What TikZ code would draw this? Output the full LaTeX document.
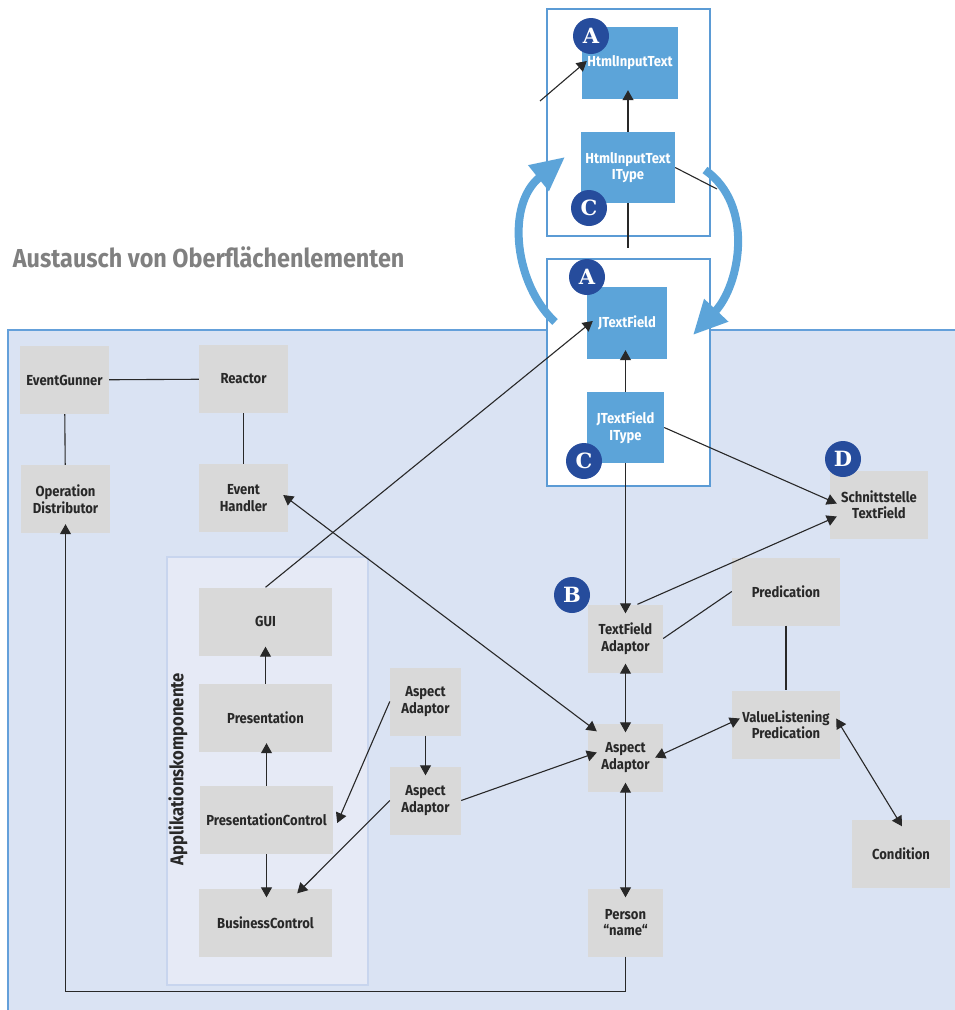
\documentclass[tikz,border=0pt]{standalone}
\usepackage{fontspec}
\setmainfont{Fira Sans}[FakeStretch=0.9]
\newfontfamily\badgefont{DejaVu Serif}
\usetikzlibrary{arrows.meta,calc}

\definecolor{panelbg}{RGB}{218,227,243}
\definecolor{panelline}{RGB}{100,160,218}
\definecolor{appbg}{RGB}{230,234,246}
\definecolor{appline}{RGB}{200,213,238}
\definecolor{boxgray}{RGB}{217,217,217}
\definecolor{boxblue}{RGB}{92,164,217}
\definecolor{frameblue}{RGB}{91,155,213}
\definecolor{badgeblue}{RGB}{38,76,156}
\definecolor{inkgray}{RGB}{40,40,40}
\definecolor{titlegray}{RGB}{128,128,128}

\newcommand\cmpfont{\bfseries\fontsize{14.5}{16.5}\selectfont}

\tikzset{
  comp/.style={fill=boxgray, text=inkgray, minimum height=68pt, inner sep=2pt, align=center, font=\cmpfont},
  ui/.style={fill=boxblue, text=white, inner sep=2pt, align=center, font=\cmpfont},
  badge/.style={circle, fill=badgeblue, text=white, minimum size=36pt, inner sep=0pt,
    font=\badgefont\bfseries\fontsize{21}{21}\selectfont},
  frame/.style={draw=frameblue, fill=white, line width=1.5pt},
  link/.style={draw=inkgray, line width=1.1pt},
  to/.style={link, -{Triangle[length=10pt,width=11pt]}},
  both/.style={link, {Triangle[length=10pt,width=11pt]}-{Triangle[length=10pt,width=11pt]}},
  deep/.style={shorten >=-9pt},
  deep2/.style={shorten >=-9pt, shorten <=-9pt},
  exchange/.style={draw=boxblue, line width=8pt, -{Triangle[length=34pt,width=31pt]}}
}

\begin{document}
\begin{tikzpicture}[x=1pt,y=-1pt]
\useasboundingbox (0,0) rectangle (954,1010);

\node[anchor=east, text=titlegray, font=\bfseries\fontsize{26}{29}\selectfont] (title) at (408,257) {Austausch von Oberflächenlementen};

\fill[panelbg] (8,330) rectangle (962,1018);
\draw[panelline, line width=2pt] (8,1018) -- (8,330) -- (962,330);

\draw[frame] (547,9) rectangle (710,236);
\draw[frame] (547,259) rectangle (710,486);

\draw[fill=appbg, draw=appline, line width=1.5pt] (167,557) rectangle (368,985);
\node[rotate=90, text=inkgray, font=\bfseries\fontsize{18.5}{20}\selectfont] (applabel) at (178,769) {Applikationskomponente};

\node[comp, minimum width=89pt] (gunner) at (64.5,380) {EventGunner};
\node[comp, minimum width=89pt] (reactor) at (243.5,379) {Reactor};
\node[comp, minimum width=89pt] (distrib) at (65.5,499) {Operation\\Distributor};
\node[comp, minimum width=89pt] (handler) at (243.5,498) {Event\\Handler};
\node[comp, minimum width=133pt] (gui) at (265.5,621.5) {GUI};
\node[comp, minimum width=133pt] (present) at (265.5,718) {Presentation};
\node[comp, minimum width=133pt] (presctrl) at (266.5,820) {PresentationControl};
\node[comp, minimum width=133pt] (business) at (265.5,922.5) {BusinessControl};
\node[comp, minimum width=71pt] (aspectA) at (425.5,701.5) {Aspect\\Adaptor};
\node[comp, minimum width=71pt] (aspectB) at (425.5,800.5) {Aspect\\Adaptor};
\node[comp, minimum width=75pt] (tfadapt) at (625.5,638.5) {TextField\\Adaptor};
\node[comp, minimum width=75pt] (aspect) at (625.5,757.5) {Aspect\\Adaptor};
\node[comp, minimum width=75pt] (person) at (625.5,922.5) {Person\\“name“};
\node[comp, minimum width=108pt] (predic) at (786,591.5) {Predication};
\node[comp, minimum width=108pt] (vlpred) at (786,724.5) {ValueListening\\Predication};
\node[comp, minimum width=98pt] (cond) at (901,853.5) {Condition};
\node[comp, minimum width=98pt] (iface) at (879,504.5) {Schnittstelle\\TextField};

\node[ui, minimum width=96pt, minimum height=72pt] (htmltext) at (630,63) {HtmlInputText};
\node[ui, minimum width=94pt, minimum height=71pt] (htmltype) at (628,167.5) {HtmlInputText\\IType};
\node[ui, minimum width=80pt, minimum height=72pt] (jfield) at (627,323) {JTextField};
\node[ui, minimum width=77pt, minimum height=71pt] (jtype) at (625.5,427.5) {JTextField\\IType};

\coordinate (feed) at (540,101);
\coordinate (cut) at (628,248);
\coordinate (hook) at (717,189);

\draw[link] (gunner) -- (reactor);
\draw[link] (gunner) -- (distrib);
\draw[link] (reactor) -- (handler);
\draw[both] ($(handler.east)+(-5,-3)$) -- ($(aspect.north west)+(9,8)$);
\draw[to] (gui.north) -- ($(jfield.west)+(6,-2)$);
\draw[to] (feed) -- ($(htmltext.west)+(5,-2)$);
\draw[to, deep] (htmltype.north) -- (htmltype.north |- htmltext.south);
\draw[link] (htmltype.south) -- (cut);
\draw[link] (htmltype.east) -- (hook);
\draw[to, deep] (jtype.north) -- (jtype.north |- jfield.south);
\draw[to] (jtype.east) -- ($(iface.west)+(7,-1)$);
\draw[to, deep] (jtype.south) -- (tfadapt.north);
\draw[to] ($(tfadapt.north)+(12,0)$) -- ($(iface.west)+(7,12)$);
\draw[link] (tfadapt.east) -- (predic.west);
\draw[both, deep2] (tfadapt) -- (aspect);
\draw[to] (aspectB.east) -- ($(aspect.west)+(9,-5)$);
\draw[both] ($(aspect.east)+(-8,0)$) -- ($(vlpred.west)+(8,-6)$);
\draw[link] (predic) -- (vlpred);
\draw[both] ($(vlpred.east)+(-4,-6)$) -- ($(cond.north)+(1,7)$);
\draw[both, deep2] (aspect) -- (person);
\draw[to, deep] (person.south) -- ++(0,35) -| (distrib.south);
\draw[to, deep] (present) -- (gui);
\draw[to, deep] (presctrl.north) -- (presctrl.north |- present.south);
\draw[to, deep] (presctrl.south) -- (presctrl.south |- business.north);
\draw[to] (aspectA.west) -- ($(presctrl.east)+(4,3)$);
\draw[to, deep] (aspectA) -- (aspectB);
\draw[to] (aspectB.west) -- ($(business.north east)+(-35,5)$);

\draw[exchange] (555,322) .. controls (515,285) and (505,205) .. (565,157);
\draw[exchange] (705,170) .. controls (755,205) and (740,285) .. (693,335);

\node[badge] (a1) at (591,36) {A};
\node[badge] (c1) at (589,208) {C};
\node[badge] (a2) at (587,277) {A};
\node[badge] (c2) at (584,461) {C};
\node[badge] (d) at (843,459) {D};
\node[badge] (b) at (572,595) {B};
\end{tikzpicture}
\end{document}
